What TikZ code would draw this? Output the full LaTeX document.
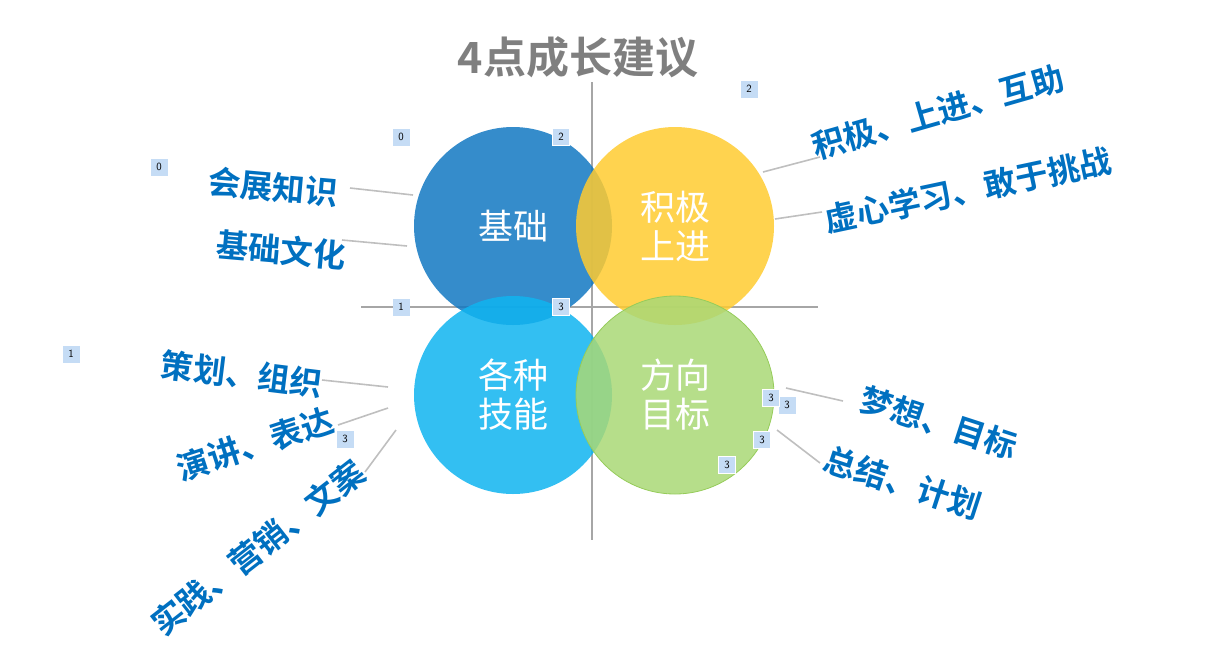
\documentclass[tikz,border=0pt]{standalone}
\usepackage{fontspec}
\newfontfamily\cjk{Noto Sans CJK SC}
\newfontfamily\cjkb{Noto Sans CJK SC Bold}
\begin{document}
\begin{tikzpicture}[x=1pt,y=-1pt]
\definecolor{cblue}{HTML}{1278C2}
\definecolor{cyellow}{HTML}{FFCB30}
\definecolor{clblue}{HTML}{0FB4F0}
\definecolor{cgreen}{HTML}{A9D876}
\definecolor{cgreenline}{HTML}{96CC5A}
\definecolor{labblue}{HTML}{0070C0}
\definecolor{leadgray}{HTML}{BFBFBF}
\definecolor{axisgray}{HTML}{A6A6A6}
\definecolor{boxblue}{HTML}{C5DCF5}
\definecolor{titlegray}{HTML}{7F7F7F}
\tikzset{
  bubble/.style={circle, minimum size=198pt, inner sep=0pt, fill opacity=0.85, text opacity=1,
    text=white, font=\cjk\fontsize{35}{39}\selectfont, align=center},
  lab/.style={text=labblue, font=\cjkb\fontsize{32.5}{36}\selectfont, inner sep=0pt},
  lead/.style={draw=leadgray, line width=1.6pt},
  numbox/.style={fill=boxblue, minimum size=17pt, inner sep=0pt, font=\sffamily\fontsize{11}{11}\selectfont},
  numboxw/.style={numbox, draw=white, line width=1pt},
}
\useasboundingbox (0,0) rectangle (1220,646);
% axes
\coordinate (vt) at (592,82);
\coordinate (vb) at (592,540);
\coordinate (hl) at (361,307);
\coordinate (hr) at (818,307);
\draw[axisgray, line width=1.3pt] (vt) -- (vb);
\draw[axisgray, line width=1.3pt] (hl) -- (hr);
% title
\node[text=titlegray, font=\cjkb\fontsize{43}{46}\selectfont] (title) at (578,57) {4点成长建议};
% circles
\node[bubble, fill=cblue] (c1) at (513,226) {基础};
\node[bubble, fill=cyellow] (c2) at (675,226) {积极\\上进};
\node[bubble, fill=clblue] (c3) at (513,395) {各种\\技能};
\node[bubble, fill=cgreen, draw=cgreenline, line width=0.8pt] (c4) at (675,395) {方向\\目标};
% labels
\node[lab, rotate=-5] (l1) at (273,187) {会展知识};
\node[lab, rotate=-5] (l2) at (281,250) {基础文化};
\node[lab, rotate=16] (l3) at (938,112) {积极、上进、互助};
\node[lab, rotate=12] (l4) at (968,190) {虚心学习、敢于挑战};
\node[lab, rotate=-7] (l5) at (242,374) {策划、组织};
\node[lab, rotate=18] (l6) at (255,444) {演讲、表达};
\node[lab, rotate=38] (l7) at (258,548) {实践、营销、文案};
\node[lab, rotate=-18] (l8) at (939,423) {梦想、目标};
\node[lab, rotate=-18] (l9) at (903,483) {总结、计划};
% leader lines
\coordinate (a1) at (350,188); \coordinate (b1) at (413,195);
\coordinate (a2) at (342,240); \coordinate (b2) at (407,246);
\coordinate (a3) at (820,157); \coordinate (b3) at (763,172);
\coordinate (a4) at (822,212); \coordinate (b4) at (775,219);
\coordinate (a5) at (322,380); \coordinate (b5) at (388,387);
\coordinate (a6) at (338,425); \coordinate (b6) at (388,408);
\coordinate (a7) at (365,472); \coordinate (b7) at (396,430);
\coordinate (a8) at (843,401); \coordinate (b8) at (786,388);
\coordinate (a9) at (820,463); \coordinate (b9) at (777,430);
\foreach \i in {1,...,9} {\draw[lead] (a\i) -- (b\i);}
% number boxes
\node[numbox] (n1) at (159,167) {0};
\node[numbox] (n2) at (401,137) {0};
\node[numboxw] (n3) at (561,137) {2};
\node[numbox] (n4) at (749,89) {2};
\node[numbox] (n5) at (71,354) {1};
\node[numbox] (n6) at (401,307) {1};
\node[numboxw] (n7) at (561,307) {3};
\node[numbox] (n8) at (345,439) {3};
\node[numbox] (n9) at (787,405) {3};
\node[numboxw] (n10) at (771,398) {3};
\node[numboxw] (n11) at (762,440) {3};
\node[numboxw] (n12) at (727,465) {3};
\end{tikzpicture}
\end{document}
